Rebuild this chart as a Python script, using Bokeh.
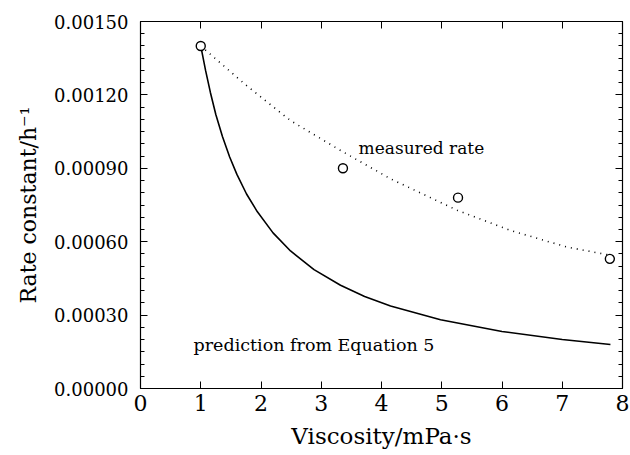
from bokeh.plotting import figure
from bokeh.models import (LinearAxis, SingleIntervalTicker, NumeralTickFormatter,
                          Range1d, ColumnDataSource)
from bokeh.core.properties import value
from bokeh.embed import file_html
from bokeh.resources import INLINE

# Measured rate constants at each viscosity
measured_viscosity = [1.00, 3.36, 5.27, 7.79]
measured_rate = [0.00140, 0.00090, 0.00078, 0.00053]

# Smooth curve through the measured rates
fit_viscosity = [1.00, 1.75, 2.49, 3.32, 4.15, 5.26, 6.14, 7.08, 7.79]
fit_rate = [0.00140, 0.00124, 0.001095, 0.000973, 0.000857, 0.000728, 0.000646, 0.000578, 0.000545]

# Rate predicted from Equation 5
pred_viscosity = [1.00, 1.08, 1.16, 1.25, 1.36, 1.48, 1.60, 1.76, 1.94, 2.20, 2.49, 2.88,
                  3.32, 3.72, 4.15, 4.98, 6.00, 7.00, 7.80]
pred_rate = [0.00140, 0.00130, 0.00121, 0.00112, 0.00103, 0.000946, 0.000875, 0.000795,
             0.000722, 0.000636, 0.000562, 0.000486, 0.000422, 0.000376, 0.000337,
             0.000281, 0.000233, 0.000200, 0.000180]

x_ticks_interval = 1
y_ticks_interval = 0.0003

SERIF = "DejaVu Serif"

p = figure(width=630, height=455, output_backend="svg", toolbar_location=None,
           x_range=Range1d(0, 8), y_range=Range1d(0, 0.0015),
           min_border_left=140, min_border_right=8, min_border_top=21, min_border_bottom=67,
           x_axis_label="Viscosity/mPa\u00b7s", y_axis_label="Rate constant/h\u207b\u00b9")
p.grid.visible = False
p.outline_line_color = "black"
p.outline_line_width = 1.2
p.background_fill_color = "white"
p.border_fill_color = "white"


def style_axis(ax, ticker, show_labels):
    ax.ticker = ticker
    ax.axis_line_color = None
    ax.major_tick_in = 7
    ax.major_tick_out = 0
    ax.minor_tick_in = 4
    ax.minor_tick_out = 0
    ax.major_tick_line_color = "black"
    ax.minor_tick_line_color = "black"
    ax.major_tick_line_width = 1
    ax.minor_tick_line_width = 1
    if not show_labels:
        # tick marks only on the mirrored sides of the frame
        ax.major_label_text_color = None
        ax.major_label_text_font_size = "1px"
        ax.major_label_standoff = 0


xa = p.xaxis[0]
style_axis(xa, SingleIntervalTicker(interval=x_ticks_interval, num_minor_ticks=0), True)
xa.major_label_text_font = SERIF
xa.major_label_text_font_size = "22px"
xa.major_label_text_color = "black"
xa.major_label_standoff = 6
xa.axis_label_text_font = SERIF
xa.axis_label_text_font_size = "23px"
xa.axis_label_text_font_style = "normal"
xa.axis_label_text_color = "black"
xa.axis_label_standoff = 9

ya = p.yaxis[0]
style_axis(ya, SingleIntervalTicker(interval=y_ticks_interval, num_minor_ticks=6), True)
ya.formatter = NumeralTickFormatter(format="0.00000")
ya.major_label_text_font = SERIF
ya.major_label_text_font_size = "18px"
ya.major_label_text_color = "black"
ya.major_label_standoff = 12
ya.axis_label_text_font = SERIF
ya.axis_label_text_font_size = "22px"
ya.axis_label_text_font_style = "normal"
ya.axis_label_text_color = "black"
ya.axis_label_standoff = 10

top_axis = LinearAxis()
style_axis(top_axis, SingleIntervalTicker(interval=x_ticks_interval, num_minor_ticks=0), False)
p.add_layout(top_axis, "above")

right_axis = LinearAxis()
style_axis(right_axis, SingleIntervalTicker(interval=y_ticks_interval, num_minor_ticks=6), False)
p.add_layout(right_axis, "right")

# Equation 5 prediction (solid) and fitted curve (dotted)
p.line(pred_viscosity, pred_rate, line_color="black", line_width=1.6)
p.line(fit_viscosity, fit_rate, line_color="black", line_width=1.6, line_dash="1 5")

src = ColumnDataSource(dict(x=measured_viscosity, y=measured_rate))
p.scatter("x", "y", source=src, marker="circle", size=9, fill_color="white",
          line_color="black", line_width=1.4)

p.text(x=[3.62], y=[0.000981], text=["measured rate"], text_font=value(SERIF),
       text_font_size="17px", text_color="black", text_baseline="alphabetic", text_align="left")
p.text(x=[0.88], y=[0.000176], text=["prediction from Equation 5"], text_font=value(SERIF),
       text_font_size="17.5px", text_color="black", text_baseline="alphabetic", text_align="left")

open("out.html", "w").write(file_html(p, INLINE))
